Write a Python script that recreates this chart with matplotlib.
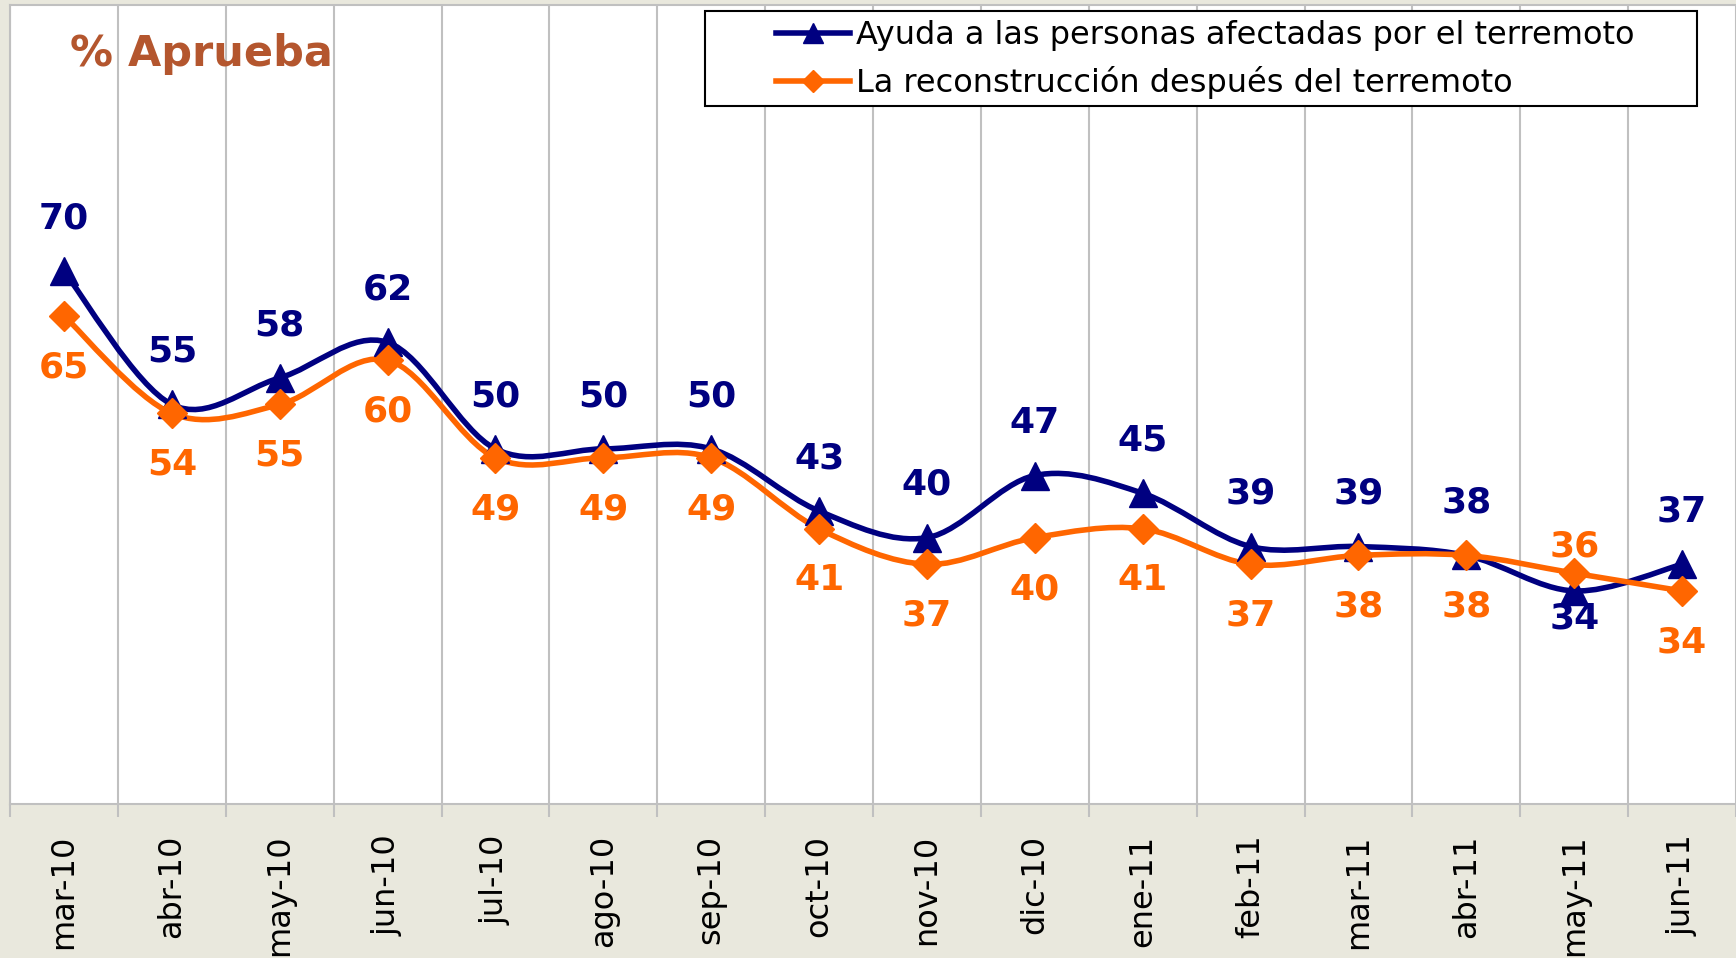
import matplotlib
matplotlib.use('Agg')
import matplotlib.pyplot as plt
import numpy as np
from matplotlib.path import Path
from matplotlib.patches import PathPatch, Rectangle
from matplotlib.lines import Line2D

# Data
months = ['mar-10', 'abr-10', 'may-10', 'jun-10', 'jul-10', 'ago-10', 'sep-10', 'oct-10',
          'nov-10', 'dic-10', 'ene-11', 'feb-11', 'mar-11', 'abr-11', 'may-11', 'jun-11']
ayuda = [70, 55, 58, 62, 50, 50, 50, 43, 40, 47, 45, 39, 39, 38, 34, 37]
reconstruccion = [65, 54, 55, 60, 49, 49, 49, 41, 37, 40, 41, 37, 38, 38, 36, 34]

label_ayuda = 'Ayuda a las personas afectadas por el terremoto'
label_recon = 'La reconstrucción después del terremoto'

navy = '#000080'
orange = '#FF6600'
grid_col = '#C0C0C0'
bg = '#E9E8DD'


def smooth_path(x, y):
    # Excel-style smoothed line: cubic Bezier segments through every point
    pts = np.column_stack([x, y]).astype(float)
    n = len(pts)
    verts = [pts[0]]
    codes = [Path.MOVETO]
    for i in range(n - 1):
        p0 = pts[max(i - 1, 0)]
        p1 = pts[i]
        p2 = pts[i + 1]
        p3 = pts[min(i + 2, n - 1)]
        c1 = p1 + (p2 - p0) / 6
        c2 = p2 - (p3 - p1) / 6
        verts += [c1, c2, p2]
        codes += [Path.CURVE4] * 3
    return Path(verts, codes)


W, H = 1736, 958
fig = plt.figure(figsize=(W / 100, H / 100), dpi=100, facecolor=bg)
ax = fig.add_axes([10 / W, 1 - 804 / H, 1 - 10 / W, (804 - 5) / H])
ax.set_facecolor('white')

x = np.arange(len(months))
ax.set_xlim(-0.5, len(months) - 0.5)
ax.set_ylim(10, 100)

for vals, col, mk, ms in [(ayuda, navy, '^', 20), (reconstruccion, orange, 'D', 15)]:
    ax.add_patch(PathPatch(smooth_path(x, vals), facecolor='none', edgecolor=col,
                           lw=4, zorder=3, capstyle='round', joinstyle='round'))
    ax.plot(x, vals, linestyle='none', marker=mk, markersize=ms, color=col, zorder=4)

# data labels: blue normally above, orange below; swapped when the order flips
lab = dict(ha='center', va='center', fontsize=26, fontweight='bold', zorder=5,
           textcoords='offset points')
for i in range(len(months)):
    a, r = ayuda[i], reconstruccion[i]
    if a >= r:
        ax.annotate(str(a), (i, a), xytext=(0, 38), color=navy, **lab)
        ax.annotate(str(r), (i, r), xytext=(0, -37), color=orange, **lab)
    else:
        ax.annotate(str(a), (i, a), xytext=(0, -20), color=navy, **lab)
        ax.annotate(str(r), (i, r), xytext=(0, 19), color=orange, **lab)

# axes styling
ax.set_yticks([])
ax.set_xticks(x)
ax.set_xticklabels(months, rotation=90, fontsize=23)
ax.set_xticks(np.arange(-0.5, len(months)), minor=True)
ax.tick_params(axis='x', which='major', length=0, pad=22)
ax.tick_params(axis='x', which='minor', length=9.5, width=1.5, color=grid_col)
ax.grid(axis='x', which='minor', color=grid_col, lw=1.5)
for s in ['left', 'bottom', 'top']:
    ax.spines[s].set_color(grid_col)
    ax.spines[s].set_linewidth(1.5)
ax.spines['right'].set_visible(False)

# title
fig.text(70 / W, 1 - 54 / H, '% Aprueba', fontsize=31, fontweight='bold',
         color='#B4562E', ha='left', va='center')

# legend with its own frame
handles = [Line2D([], [], color=navy, lw=4, marker='^', markersize=14),
           Line2D([], [], color=orange, lw=4, marker='D', markersize=11)]
leg = ax.legend(handles, [label_ayuda, label_recon], loc='upper left',
                bbox_to_anchor=((770 - 10) / 1726, (804 - 14) / 799),
                frameon=False, fontsize=23, handlelength=2.3, handletextpad=0.2,
                labelspacing=0.45, borderpad=0.2, borderaxespad=0)
ax.add_patch(Rectangle((705 / W, 1 - 106 / H), (1697 - 705) / W, 95 / H,
                       transform=fig.transFigure, facecolor='white', edgecolor='black',
                       lw=1.5, zorder=6))
leg.set_zorder(7)

fig.savefig('out.png', dpi=100, facecolor=bg)
